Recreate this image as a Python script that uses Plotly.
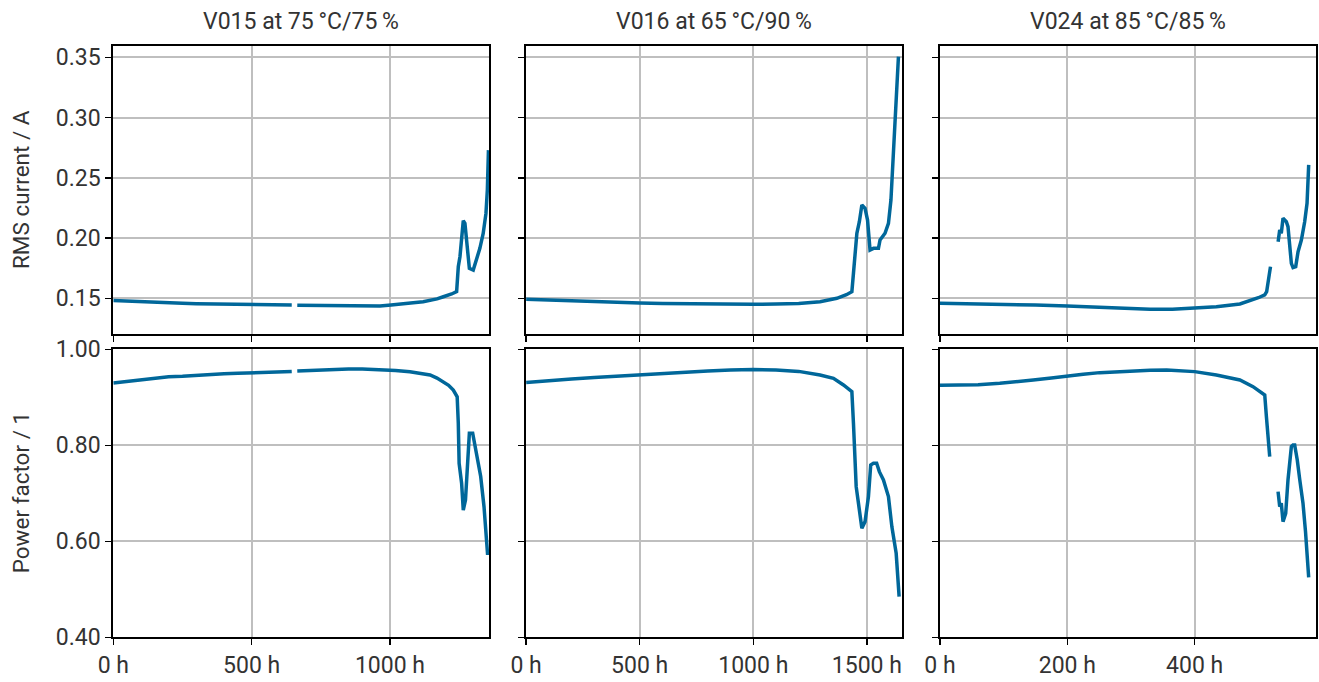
import plotly.graph_objects as go

# ---------------- data ----------------
titles = ["V015 at 75\u2009°C/75\u2009%", "V016 at 65\u2009°C/90\u2009%", "V024 at 85\u2009°C/85\u2009%"]
y_titles = ["RMS current / A", "Power factor / 1"]

# V015
v015_rms_h = [0, 50, 100, 150, 200, 250, 300, 350, 400, 450, 500, 550, 600, 645, 655, 665, 700, 750, 800, 850,
              900, 964, 1004, 1050, 1084, 1120, 1145, 1170, 1193, 1210, 1223, 1241, 1247, 1253, 1259, 1265, 1271,
              1277, 1287, 1301, 1313, 1325, 1337, 1347, 1352, 1356]
v015_rms = [0.1482, 0.1476, 0.1470, 0.1467, 0.1462, 0.1459, 0.1455, 0.1453, 0.1450, 0.1449, 0.1447, 0.1446,
            0.1445, 0.1444, None, 0.1443, 0.1442, 0.1440, 0.1438, 0.1436, 0.1435, 0.1436, 0.1444, 0.1452,
            0.1464, 0.1472, 0.1480, 0.1495, 0.1513, 0.1525, 0.1536, 0.1555, 0.1762, 0.1845, 0.2011, 0.2144,
            0.2122, 0.1984, 0.1749, 0.1735, 0.1818, 0.1915, 0.2039, 0.2205, 0.2399, 0.2730]
v015_pf_h = [0, 50, 100, 150, 200, 250, 300, 350, 400, 450, 500, 550, 600, 645, 655, 665, 700, 750, 800, 850,
             900, 964, 1020, 1072, 1110, 1145, 1170, 1193, 1212, 1229, 1243, 1247, 1250, 1259, 1265, 1273, 1279,
             1287, 1299, 1313, 1328, 1340, 1353]
v015_pf = [0.930, 0.933, 0.937, 0.940, 0.943, 0.944, 0.946, 0.947, 0.949, 0.950, 0.951, 0.952, 0.953, 0.954,
           None, 0.955, 0.956, 0.957, 0.958, 0.959, 0.959, 0.958, 0.956, 0.953, 0.950, 0.9465, 0.940, 0.9325,
           0.925, 0.915, 0.901, 0.846, 0.7625, 0.721, 0.665, 0.686, 0.7485, 0.825, 0.825, 0.783, 0.735, 0.672,
           0.5715]

# V016
v016_rms_h = [0, 100, 200, 300, 400, 500, 600, 700, 800, 900, 1000, 1100, 1200, 1294, 1368, 1410, 1434, 1441,
              1448, 1456, 1467, 1478, 1492, 1503, 1514, 1529, 1551, 1558, 1580, 1595, 1606, 1617, 1629, 1639]
v016_rms = [0.1492, 0.1485, 0.1478, 0.1472, 0.1466, 0.1462, 0.1458, 0.1455, 0.1452, 0.1450, 0.1450, 0.1452,
            0.1458, 0.1472, 0.1500, 0.1530, 0.1555, 0.1708, 0.1901, 0.2040, 0.2136, 0.2275, 0.2247, 0.2150,
            0.1901, 0.1915, 0.1915, 0.1984, 0.2040, 0.2122, 0.2316, 0.2731, 0.3091, 0.3506]
v016_pf_h = [0, 100, 200, 300, 400, 500, 600, 700, 800, 900, 1000, 1100, 1200, 1294, 1353, 1397, 1434, 1441,
             1446, 1453, 1463, 1478, 1492, 1507, 1517, 1529, 1543, 1555, 1573, 1595, 1610, 1629, 1642]
v016_pf = [0.931, 0.935, 0.938, 0.941, 0.944, 0.947, 0.949, 0.952, 0.955, 0.957, 0.958, 0.957, 0.954, 0.9465,
           0.9396, 0.9257, 0.9118, 0.8458, 0.7833, 0.7139, 0.6792, 0.6271, 0.641, 0.6931, 0.759, 0.7625, 0.7625,
           0.7451, 0.7278, 0.6931, 0.6306, 0.575, 0.4847]

# V024
v024_rms_h = [0, 25, 50, 75, 100, 150, 200, 250, 300, 330, 365, 400, 434, 471, 486, 500, 510, 513, 519, 525,
              531, 533.5, 536, 538.7, 543.9, 546.5, 551.8, 554.4, 558.6, 562.3, 567.5, 572.7, 576.4, 579]
v024_rms = [0.1460, 0.1458, 0.1455, 0.1453, 0.1450, 0.1444, 0.1436, 0.1427, 0.1415, 0.1409, 0.1410, 0.1417,
            0.1430, 0.1453, 0.1478, 0.1505, 0.1528, 0.1555, 0.1763, None, 0.1970, 0.2067, 0.2040, 0.2164,
            0.2136, 0.2095, 0.1790, 0.1755, 0.1763, 0.1887, 0.1984, 0.2136, 0.2289, 0.2607]
v024_pf_h = [0, 30, 60, 94, 120, 146.5, 175, 200, 225, 251, 275, 303, 330, 356, 380, 400, 434, 471, 491.6, 510,
             512.6, 517.8, 525, 530.9, 533.5, 536, 538.7, 542.9, 546.5, 551.8, 554.4, 557, 561, 565, 570, 574,
             577, 579]
v024_pf = [0.925, 0.925, 0.926, 0.9292, 0.932, 0.9361, 0.940, 0.9444, 0.948, 0.9514, 0.953, 0.9556, 0.9565,
           0.957, 0.956, 0.9535, 0.9465, 0.9361, 0.9222, 0.9049, 0.8597, 0.7764, None, 0.7035, 0.6722, 0.6792,
           0.641, 0.6583, 0.7278, 0.7972, 0.8007, 0.8007, 0.770, 0.728, 0.680, 0.620, 0.565, 0.525]

x_ranges = [[0, 1358], [0, 1656], [0, 590]]
x_ticks = [[0, 500, 1000], [0, 500, 1000, 1500], [0, 200, 400]]
rms_range = [0.1204, 0.3594]
rms_ticks = [0.15, 0.20, 0.25, 0.30, 0.35]
pf_range = [0.40, 1.00]
pf_ticks = [0.40, 0.60, 0.80, 1.00]

series = [
    [(v015_rms_h, v015_rms), (v016_rms_h, v016_rms), (v024_rms_h, v024_rms)],
    [(v015_pf_h, v015_pf), (v016_pf_h, v016_pf), (v024_pf_h, v024_pf)],
]

# ---------------- layout geometry ----------------
W, H = 1319, 682
col_px = [(113.3, 489.0), (526.1, 902.3), (939.9, 1315.7)]
row_px = [(46.0, 334.0), (349.3, 637.3)]
LINE = "#00679a"
TXT = "#333333"
GRID = "#bfbfbf"
FONT = "Roboto"
FS = 23
FS_T = 23
FS_Y = 22.5

fig = go.Figure()
layout = dict(
    template="none",
    width=W, height=H, margin=dict(l=0, r=0, t=0, b=0, pad=0), autosize=False,
    paper_bgcolor="white", plot_bgcolor="white", showlegend=False,
    font=dict(family=FONT, size=FS, color=TXT),
)
for r in range(2):
    for c in range(3):
        k = r * 3 + c + 1
        xs, ys = series[r][c]
        fig.add_trace(go.Scatter(x=xs, y=ys, mode="lines", connectgaps=False,
                                 line=dict(color=LINE, width=3.5),
                                 xaxis="x" if k == 1 else f"x{k}",
                                 yaxis="y" if k == 1 else f"y{k}",
                                 hoverinfo="skip"))
        xname = "xaxis" if k == 1 else f"xaxis{k}"
        yname = "yaxis" if k == 1 else f"yaxis{k}"
        x0, x1 = col_px[c]
        y0, y1 = row_px[r]
        layout[xname] = dict(
            domain=[x0 / W, x1 / W], anchor="y" if k == 1 else f"y{k}",
            range=x_ranges[c], tickvals=x_ticks[c],
            ticktext=[f"{v} h" for v in x_ticks[c]],
            showticklabels=(r == 1), automargin=False,
            ticks="outside", ticklen=6, tickwidth=1.5, tickcolor="black",
            showline=True, linecolor="black", linewidth=2, mirror=True,
            showgrid=True, gridcolor=GRID, gridwidth=2, zeroline=False,
            tickfont=dict(family=FONT, size=FS, color=TXT),
        )
        if r == 0:
            yr, yt = rms_range, rms_ticks
        else:
            yr, yt = pf_range, pf_ticks
        layout[yname] = dict(
            domain=[1 - y1 / H, 1 - y0 / H], anchor="x" if k == 1 else f"x{k}",
            range=yr, tickvals=yt, ticktext=[f"{v:.2f}" for v in yt],
            showticklabels=(c == 0), automargin=False,
            ticks="outside", ticklen=6, tickwidth=1.5, tickcolor="black",
            showline=True, linecolor="black", linewidth=2, mirror=True,
            showgrid=True, gridcolor=GRID, gridwidth=2, zeroline=False,
            tickfont=dict(family=FONT, size=FS, color=TXT),
        )

annotations = []
for c in range(3):
    x0, x1 = col_px[c]
    annotations.append(dict(text=titles[c], x=(x0 + x1) / 2 / W, y=1 - 22 / H, xref="paper", yref="paper",
                            xanchor="center", yanchor="middle", showarrow=False,
                            font=dict(family=FONT, size=FS_T, color=TXT)))
for r in range(2):
    y0, y1 = row_px[r]
    annotations.append(dict(text=y_titles[r], x=21 / W, y=1 - (y0 + y1) / 2 / H, xref="paper", yref="paper",
                            xanchor="center", yanchor="middle", textangle=-90, showarrow=False,
                            font=dict(family=FONT, size=FS_Y, color=TXT)))
layout["annotations"] = annotations
fig.update_layout(**layout)
fig.write_html("out.html", config={"displayModeBar": False, "staticPlot": True},
               post_script="document.body.style.margin='0';document.body.style.overflow='hidden';")
